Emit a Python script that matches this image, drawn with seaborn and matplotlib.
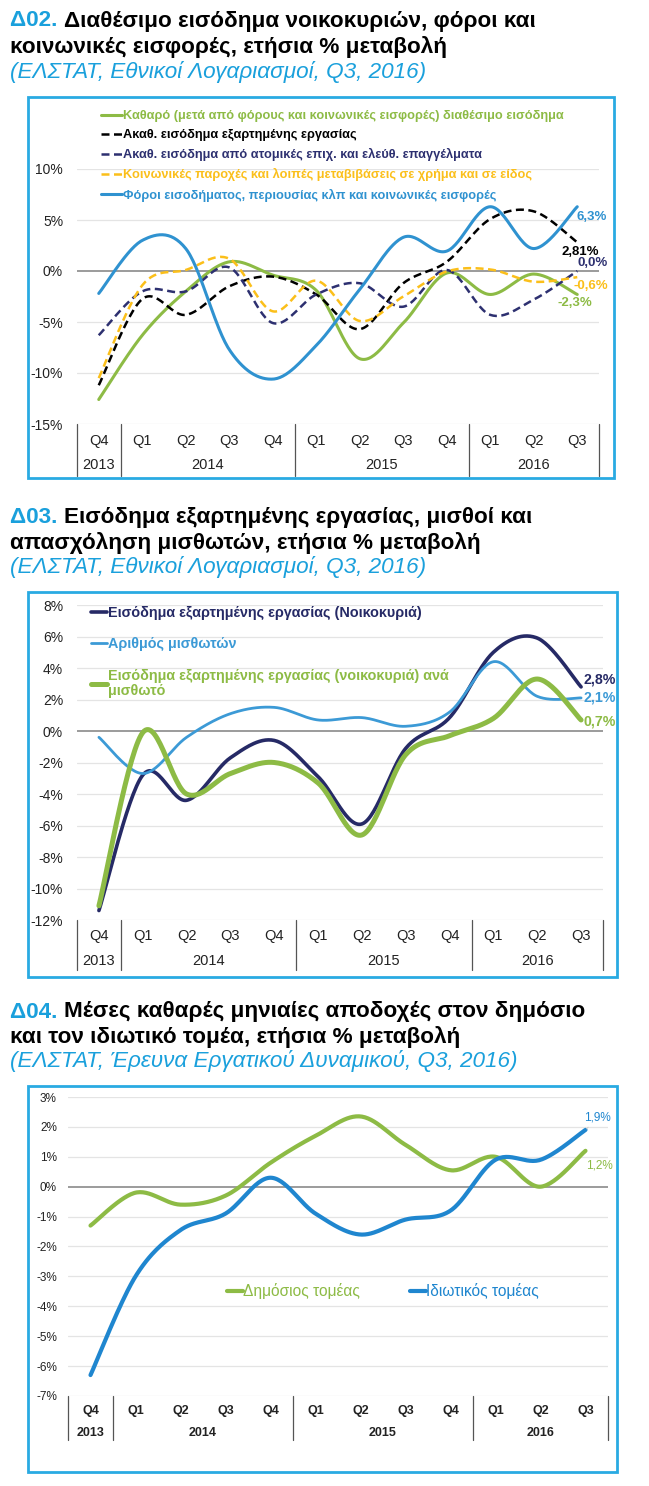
import numpy as np
import pandas as pd
import matplotlib
matplotlib.use("Agg")
import matplotlib.pyplot as plt
import seaborn as sns
from matplotlib.patches import Rectangle
from matplotlib.lines import Line2D

sns.set_theme(style="white")
plt.rcParams["font.family"] = ["Liberation Sans", "DejaVu Sans"]

# ---------------- data ----------------
quarters = ["Q4", "Q1", "Q2", "Q3", "Q4", "Q1", "Q2", "Q3", "Q4", "Q1", "Q2", "Q3"]
years = ["2013", "2014", "2015", "2016"]
year_first_idx = [0, 1, 5, 9]
year_last_idx = [0, 4, 8, 11]

# Δ02
d02_net = [-12.6, -6.3, -2.0, 0.9, -0.4, -1.9, -8.6, -5.1, -0.2, -2.3, -0.3, -2.3]
d02_wages = [-11.2, -2.75, -4.3, -1.5, -0.55, -2.3, -5.7, -1.2, 0.9, 5.1, 5.85, 2.81]
d02_self = [-6.3, -2.0, -2.0, 0.35, -5.1, -2.3, -1.2, -3.5, 0.1, -4.3, -2.8, 0.0]
d02_benef = [-10.5, -1.4, 0.1, 1.2, -3.95, -0.95, -4.9, -2.5, -0.05, 0.15, -1.05, -0.6]
d02_taxes = [-2.2, 3.0, 2.2, -7.7, -10.6, -7.3, -1.8, 3.3, 1.95, 6.3, 2.2, 6.3]
d02_labels = ["Καθαρό (μετά από φόρους και κοινωνικές εισφορές) διαθέσιμο εισόδημα",
              "Ακαθ. εισόδημα εξαρτημένης εργασίας",
              "Ακαθ. εισόδημα από ατομικές επιχ. και ελεύθ. επαγγέλματα",
              "Κοινωνικές παροχές και λοιπές μεταβιβάσεις σε χρήμα και σε είδος",
              "Φόροι εισοδήματος, περιουσίας κλπ και κοινωνικές εισφορές"]
d02_end = ["-2,3%", "2,81%", "0,0%", "-0,6%", "6,3%"]

# Δ03
d03_comp = [-11.4, -2.8, -4.4, -1.7, -0.6, -2.9, -5.9, -1.1, 0.85, 5.0, 5.9, 2.8]
d03_empl = [-0.4, -2.7, -0.4, 1.1, 1.5, 0.7, 0.85, 0.3, 1.2, 4.4, 2.2, 2.1]
d03_peremp = [-11.1, -0.1, -4.0, -2.7, -2.0, -3.3, -6.6, -1.5, -0.3, 0.8, 3.3, 0.7]
d03_labels = ["Εισόδημα εξαρτημένης εργασίας (Νοικοκυριά)",
              "Αριθμός μισθωτών",
              "Εισόδημα εξαρτημένης εργασίας (νοικοκυριά) ανά\nμισθωτό"]
d03_end = ["2,8%", "2,1%", "0,7%"]

# Δ04
d04_public = [-1.3, -0.2, -0.6, -0.3, 0.8, 1.7, 2.35, 1.4, 0.55, 1.0, 0.0, 1.2]
d04_private = [-6.3, -3.0, -1.45, -0.9, 0.3, -0.9, -1.6, -1.1, -0.8, 0.9, 0.9, 1.9]
d04_labels = ["Δημόσιος τομέας", "Ιδιωτικός τομέας"]
d04_end = ["1,2%", "1,9%"]

titles = [("Δ02.", "Διαθέσιμο εισόδημα νοικοκυριών, φόροι και", "κοινωνικές εισφορές, ετήσια % μεταβολή",
           "(ΕΛΣΤΑΤ, Εθνικοί Λογαριασμοί, Q3, 2016)"),
          ("Δ03.", "Εισόδημα εξαρτημένης εργασίας, μισθοί και", "απασχόληση μισθωτών, ετήσια % μεταβολή",
           "(ΕΛΣΤΑΤ, Εθνικοί Λογαριασμοί, Q3, 2016)"),
          ("Δ04.", "Μέσες καθαρές μηνιαίες αποδοχές στον δημόσιο", "και τον ιδιωτικό τομέα, ετήσια % μεταβολή",
           "(ΕΛΣΤΑΤ, Έρευνα Εργατικού Δυναμικού, Q3, 2016)")]

# ---------------- style ----------------
GREEN = "#8dbb45"
BLUE = "#2f92d0"
NAVY = "#2d3070"
YELLOW = "#fbbf1a"
BLACK = "#000000"
TBLUE = "#1aa0dc"
BOX = "#29aae2"

W, H = 649, 1486
fig = plt.figure(figsize=(W / 100, H / 100), dpi=100)


def fx(px):
    return px / W


def fy(py):
    return 1 - py / H


def add_axes(x0, y0, x1, y1):
    return fig.add_axes([fx(x0), fy(y1), fx(x1 - x0), (y1 - y0) / H])


def smooth(xs, ys, n=30):
    pts = np.column_stack([xs, ys]).astype(float)
    P = np.vstack([pts[0], pts, pts[-1]])
    out = []
    for i in range(1, len(P) - 2):
        p0, p1, p2, p3 = P[i - 1], P[i], P[i + 1], P[i + 2]
        c1 = p1 + (p2 - p0) / 6.0
        c2 = p2 - (p3 - p1) / 6.0
        t = np.linspace(0, 1, n, endpoint=False)[:, None]
        seg = ((1 - t) ** 3) * p1 + 3 * ((1 - t) ** 2) * t * c1 + 3 * (1 - t) * t ** 2 * c2 + t ** 3 * p2
        out.append(seg)
    out.append(pts[-1][None, :])
    arr = np.vstack(out)
    return arr[:, 0], arr[:, 1]


def draw_series(ax, values, color, lw, ls="-", label=None):
    xs = np.arange(len(values))
    sx, sy = smooth(xs, values)
    df = pd.DataFrame({"x": sx, "y": sy})
    sns.lineplot(data=df, x="x", y="y", ax=ax, color=color, linewidth=lw, linestyle=ls,
                 sort=False, estimator=None, label=label, legend=False)
    ax.set_xlabel("")
    ax.set_ylabel("")


def category_axis(ax, fs, bold, q_off, y_off, drop):
    n = len(quarters)
    ax.set_xlim(-0.5, n - 0.5)
    ax.set_xticks([])
    trans = ax.get_xaxis_transform()
    fw = "bold" if bold else "normal"
    h = ax.get_position().height * H
    for i, q in enumerate(quarters):
        ax.text(i, -q_off / h, q, transform=trans, ha="center", va="center", fontsize=fs,
                fontweight=fw, color="#222222")
    for yr, a, b in zip(years, year_first_idx, year_last_idx):
        ax.text((a + b) / 2, -y_off / h, yr, transform=trans, ha="center", va="center",
                fontsize=fs, fontweight=fw, color="#222222")
    for xb in [-0.5, 0.5, 4.5, 8.5, n - 0.5]:
        ax.plot([xb, xb], [0, -drop / h], transform=trans, color="#555555", lw=0.9,
                clip_on=False)


def base_axes(ax, ylim, ticks, fs, fmt, pad):
    ax.set_ylim(*ylim)
    ax.set_yticks(ticks)
    ax.set_yticklabels([fmt(t) for t in ticks], fontsize=fs, color="#222222")
    ax.tick_params(axis="y", length=0, pad=pad)
    for s in ax.spines.values():
        s.set_visible(False)
    ax.set_facecolor("none")
    for t in ticks:
        if t != 0:
            ax.axhline(t, color="#e4e4e4", lw=0.9, zorder=0)
    ax.axhline(0, color="#8a8a8a", lw=1.2, zorder=1)


def title_block(tb, y1, y2, y3):
    num, l1, l2, sub = tb
    fs = 16.2
    t = fig.text(fx(10), fy(y1), num + " ", color=TBLUE, fontsize=fs, fontweight="bold", va="center")
    fig.canvas.draw()
    bb = t.get_window_extent(fig.canvas.get_renderer())
    fig.text(bb.x1 / W, fy(y1), l1, color="black", fontsize=fs, fontweight="bold", va="center")
    fig.text(fx(10), fy(y2), l2, color="black", fontsize=fs, fontweight="bold", va="center")
    fig.text(fx(10), fy(y3), sub, color=TBLUE, fontsize=fs, style="italic", va="center")


def box(x0, y0, x1, y1):
    fig.patches.append(Rectangle((fx(x0), fy(y1)), fx(x1 - x0), (y1 - y0) / H, transform=fig.transFigure,
                                 fill=False, edgecolor=BOX, linewidth=2.0))


# ================= Δ02 =================
title_block(titles[0], 21, 47, 72)
box(28, 97, 614, 478)
ax1 = add_axes(77, 169, 599, 424)
base_axes(ax1, (-15, 10), [-15, -10, -5, 0, 5, 10], 10, lambda v: f"{v}%", 10)
DASH = (0, (3.2, 1.8))
series1 = [(d02_net, GREEN, 2.2, "-"), (d02_wages, BLACK, 1.8, DASH),
           (d02_self, NAVY, 1.8, DASH), (d02_benef, YELLOW, 1.8, DASH),
           (d02_taxes, BLUE, 2.2, "-")]
for (vals, c, lw, ls), lab in zip(series1, d02_labels):
    draw_series(ax1, vals, c, lw, ls, lab)
category_axis(ax1, 10.5, False, 17, 41, 52)
handles = [Line2D([], [], color=c, lw=lw, ls=ls) for (_, c, lw, ls) in series1]
leg = ax1.legend(handles, d02_labels, loc="upper left", bbox_to_anchor=(fx(101), fy(110)),
                 bbox_transform=fig.transFigure, frameon=False,
                 prop={"weight": "bold", "size": 9.2}, handlelength=1.65, handletextpad=0.05,
                 labelspacing=0.56, borderpad=0, borderaxespad=0)
for txt, (_, c, _, _) in zip(leg.get_texts(), series1):
    txt.set_color(c)
end_offsets1 = [(-2, -9), (3, -10), (15, 8), (14, -9), (14, -10)]
for (vals, c, _, _), lab, (dx, dy) in zip(series1, d02_end, end_offsets1):
    ax1.annotate(lab, xy=(11, vals[-1]), xytext=(dx * 0.72, dy * 0.72), textcoords="offset points",
                 ha="center", va="center", fontsize=9.5, fontweight="bold", color=c)

# ================= Δ03 =================
NAVY2 = "#262a66"
LBLUE = "#3c9ad6"
title_block(titles[1], 518, 543, 567)
box(28, 592, 617, 977)
ax2 = add_axes(77, 605, 603, 920)
base_axes(ax2, (-12, 8), list(range(-12, 9, 2)), 10, lambda v: f"{v}%", 10)
series2 = [(d03_comp, NAVY2, 2.6), (d03_empl, LBLUE, 2.0), (d03_peremp, GREEN, 3.6)]
for (vals, c, lw), lab in zip(series2, d03_labels):
    draw_series(ax2, vals, c, lw, "-", lab)
category_axis(ax2, 10.5, False, 16, 41, 50)
handles2 = [Line2D([], [], color=c, lw=lw) for (_, c, lw) in series2]
leg2 = ax2.legend(handles2, d03_labels, loc="upper left", bbox_to_anchor=(fx(91), fy(606)),
                  bbox_transform=fig.transFigure, frameon=False,
                  prop={"weight": "bold", "size": 10.4}, handlelength=1.1, handletextpad=0.05,
                  labelspacing=1.2, borderpad=0, borderaxespad=0)
for txt, (_, c, _) in zip(leg2.get_texts(), series2):
    txt.set_color(c)
    txt.set_linespacing(1.12)
end_offsets2 = [(19, 7), (19, 0), (19, -2)]
for (vals, c, _), lab, (dx, dy) in zip(series2, d03_end, end_offsets2):
    ax2.annotate(lab, xy=(11, vals[-1]), xytext=(dx * 0.72, dy * 0.72), textcoords="offset points",
                 ha="center", va="center", fontsize=10.2, fontweight="bold", color=c)

# ================= Δ04 =================
BLUE3 = "#1f86cf"
title_block(titles[2], 1012, 1037, 1061)
box(28, 1086, 617, 1472)
ax3 = add_axes(68, 1097, 608, 1396)
base_axes(ax3, (-7, 3), list(range(-7, 4)), 8.5, lambda v: f"{v}%", 8)
series3 = [(d04_public, GREEN, 3.0), (d04_private, BLUE3, 3.0)]
for (vals, c, lw), lab in zip(series3, d04_labels):
    draw_series(ax3, vals, c, lw, "-", lab)
category_axis(ax3, 9, True, 15, 37, 44)
handles3 = [Line2D([], [], color=c, lw=lw) for (_, c, lw) in series3]
leg3 = ax3.legend(handles3, d04_labels, loc="center left", bbox_to_anchor=(fx(227), fy(1291)),
                  bbox_transform=fig.transFigure, frameon=False, ncol=2,
                  prop={"size": 11.2}, handlelength=1.0, handletextpad=0.05,
                  columnspacing=3.2, borderpad=0, borderaxespad=0)
for txt, (_, c, _) in zip(leg3.get_texts(), series3):
    txt.set_color(c)
end_offsets3 = [(14, -15), (12, 12)]
for (vals, c, _), lab, (dx, dy) in zip(series3, d04_end, end_offsets3):
    ax3.annotate(lab, xy=(11, vals[-1]), xytext=(dx * 0.72, dy * 0.72), textcoords="offset points",
                 ha="center", va="center", fontsize=8.5, color=c,
                 arrowprops=dict(arrowstyle="-", color="#c8c8c8", lw=0.6,
                                 shrinkA=4, shrinkB=1) if lab == "1,9%" else None)

fig.savefig("out.png", dpi=100, facecolor="white")
